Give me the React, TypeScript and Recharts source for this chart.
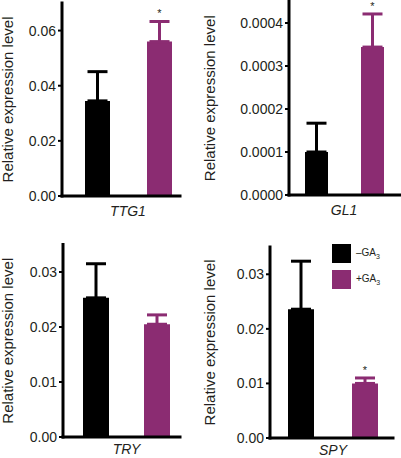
import React from 'react';
import { BarChart, Bar, XAxis, YAxis, ErrorBar, LabelList, Legend } from 'recharts';

// values
const genes = ['TTG1', 'GL1', 'TRY', 'SPY'];
const minusGA3 = [0.0345, 0.0001, 0.0253, 0.0236];
const plusGA3 = [0.056, 0.000344, 0.0205, 0.01];
const minusErr = [0.0106, 0.000067, 0.0062, 0.0088];
const plusErr = [0.0073, 0.000077, 0.0017, 0.001];
const significant = [true, true, false, true];
const yMax = [0.07, 0.00045, 0.035, 0.035];
const yTicks = [
    [0, 0.02, 0.04, 0.06],
    [0, 0.0001, 0.0002, 0.0003, 0.0004],
    [0, 0.01, 0.02, 0.03],
    [0, 0.01, 0.02, 0.03]
];
const tickDigits = [2, 4, 2, 2];
const seriesNames = ['–GA', '+GA'];

const BLACK = '#000000';
const PURPLE = '#8B2C72';
const TEXT = '#231F20';
const FONT = 'Arial, "Liberation Sans", Helvetica, sans-serif';

// where each panel sits on the page
const layouts = [
    { left: 0, top: 0, width: 190, height: 226, mTop: 3, mRight: 10, yw: 62, xh: 30, pad: [18, 4], barSize: 25, gap: 37, tm: 4, lab: 8 },
    { left: 200, top: 0, width: 201, height: 226, mTop: 1.5, mRight: 0, yw: 89, xh: 31, pad: [10, 12], barSize: 23, gap: 33, tm: 4, lab: 10 },
    { left: 0, top: 229, width: 190, height: 229, mTop: 15.5, mRight: 10, yw: 63, xh: 21, pad: [14, 4], barSize: 26, gap: 35, tm: 1, lab: 8 },
    { left: 200, top: 229, width: 201, height: 229, mTop: 18, mRight: 8, yw: 70, xh: 20, pad: [8, 5], barSize: 26, gap: 38, tm: 1, lab: 10 }
];

const LegendContent = (props: any) => (
    <div style={{ fontFamily: FONT }}>
        {(props.payload || []).map((p: any) => (
            <div key={p.value} style={{ display: 'flex', alignItems: 'center', height: 19, marginBottom: 7 }}>
                <span style={{ width: 19, height: 19, background: p.color, display: 'inline-block' }} />
                <span style={{ marginLeft: 5, fontSize: 10, color: TEXT }}>
                    {p.value}
                    <sub style={{ fontSize: 7 }}>3</sub>
                </span>
            </div>
        ))}
    </div>
);

const makeStar = (err: number, show: boolean) => (props: any) => {
    if (!show) return null;
    const vb = props.viewBox || props;
    const { x, y, width, height } = vb;
    const value = Number(props.value);
    const errPx = (err / value) * Math.abs(height);
    return (
        <text x={x + width / 2} y={y - errPx - 4} textAnchor="middle" fontSize={11} fill={TEXT} fontFamily={FONT}>
            *
        </text>
    );
};

function Panel({ i }: { i: number }) {
    const l = layouts[i];
    const data = [
        {
            gene: genes[i],
            minus: minusGA3[i],
            plus: plusGA3[i],
            minusErr: [0, minusErr[i]],
            plusErr: [0, plusErr[i]]
        }
    ];
    return (
        <div style={{ position: 'absolute', left: l.left, top: l.top }}>
            <BarChart
                width={l.width}
                height={l.height}
                data={data}
                margin={{ top: l.mTop, right: l.mRight, left: 0, bottom: 0 }}
                barSize={l.barSize}
                barGap={l.gap}
            >
                <XAxis
                    dataKey="gene"
                    height={l.xh}
                    padding={{ left: l.pad[0], right: l.pad[1] }}
                    tickLine={false}
                    tickMargin={l.tm}
                    axisLine={{ stroke: BLACK, strokeWidth: 3, strokeLinecap: 'square' }}
                    tick={{ fontSize: 14, fontStyle: 'italic', fill: TEXT, fontFamily: FONT }}
                />
                <YAxis
                    width={l.yw}
                    domain={[0, yMax[i]]}
                    ticks={yTicks[i]}
                    interval={0}
                    tickSize={4}
                    tickMargin={2}
                    tickFormatter={(v: number) => v.toFixed(tickDigits[i])}
                    axisLine={{ stroke: BLACK, strokeWidth: 3, strokeLinecap: 'square' }}
                    tickLine={{ stroke: BLACK, strokeWidth: 2 }}
                    tick={{ fontSize: 14, fill: TEXT, fontFamily: FONT }}
                    label={{
                        value: 'Relative expression level',
                        angle: -90,
                        position: 'insideLeft',
                        offset: l.lab,
                        style: { textAnchor: 'middle', fontSize: 15, fill: TEXT, fontFamily: FONT }
                    }}
                />
                <Bar dataKey="minus" name={seriesNames[0]} fill={BLACK} isAnimationActive={false}>
                    <ErrorBar dataKey="minusErr" direction="y" width={10} strokeWidth={3} stroke={BLACK} />
                </Bar>
                <Bar dataKey="plus" name={seriesNames[1]} fill={PURPLE} isAnimationActive={false}>
                    <ErrorBar dataKey="plusErr" direction="y" width={10} strokeWidth={3} stroke={PURPLE} />
                    <LabelList dataKey="plus" content={makeStar(plusErr[i], significant[i])} />
                </Bar>
                {i === 3 && (
                    <Legend
                        layout="vertical"
                        align="center"
                        verticalAlign="middle"
                        itemSorter="dataKey"
                        wrapperStyle={{ left: 132, top: 15, width: 70 }}
                        content={LegendContent}
                    />
                )}
            </BarChart>
        </div>
    );
}

export default function App() {
    return (
        <div style={{ position: 'relative', width: 401, height: 458, background: '#fff', overflow: 'hidden' }}>
            <style>{'body{margin:0;background:#fff}'}</style>
            {genes.map((g, i) => (
                <Panel key={g} i={i} />
            ))}
        </div>
    );
}
